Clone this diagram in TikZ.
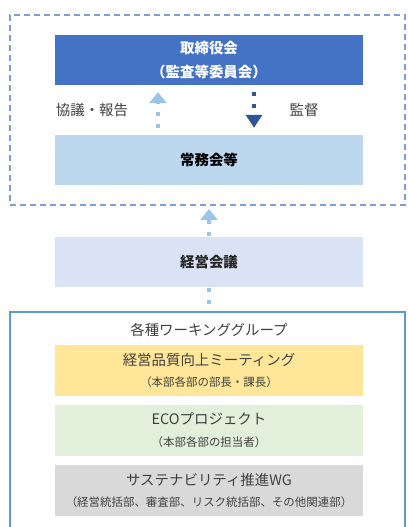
\documentclass[tikz,border=0pt]{standalone}
\usepackage{fontspec}
\setmainfont{Noto Sans CJK JP}
\usetikzlibrary{arrows.meta}

\begin{document}
\begin{tikzpicture}[x=1bp, y=-1bp,
  box/.style={minimum width=308bp, minimum height=50bp, inner sep=0pt, align=center},
  bigtext/.style={font=\fontsize{14.5}{24}\selectfont},
  wgbox/.style={box, minimum height=51bp, text=black!75, font=\fontsize{14.5}{22}\selectfont},
  upflow/.style={draw=uparrow, line width=4bp, dash pattern=on 4bp off 8bp,
    -{Triangle[width=17bp, length=11bp]}},
  downflow/.style={draw=downarrow, line width=4bp, dash pattern=on 4bp off 8bp,
    -{Triangle[width=16bp, length=13bp]}}]

% Define colors
\definecolor{boardblue}{HTML}{4472C4}
\definecolor{jomublue}{HTML}{BDD7EE}
\definecolor{keieiblue}{HTML}{DAE3F3}
\definecolor{framedash}{HTML}{7E9ED8}
\definecolor{framewg}{HTML}{5B9BD5}
\definecolor{uparrow}{HTML}{9DC3E6}
\definecolor{downarrow}{HTML}{2F5597}
\definecolor{wgyellow}{HTML}{FFE699}
\definecolor{wggreen}{HTML}{E2EFDA}
\definecolor{wggrey}{HTML}{D9D9D9}

\useasboundingbox[fill=white] (0,0) rectangle (407,527);

% Upper dashed frame
\node (outer) [draw=framedash, line width=2bp, dash pattern=on 6bp off 4bp,
  minimum width=395bp, minimum height=190bp, inner sep=0pt] at (207.5,110) {};

% Boards
\node (board) [box, fill=boardblue, text=white, bigtext] at (209,60)
  {\textbf{取締役会}\\\textbf{（監査等委員会）}};
\node (jomu) [box, fill=jomublue, bigtext] at (209,160) {\textbf{常務会等}};
\node (keiei) [box, fill=keieiblue, text=black!85, bigtext] at (209,262) {\textbf{経営会議}};

% Labels beside the arrows
\node (kyogi) [text=black!75, font=\fontsize{14.5}{16}\selectfont] at (92,110) {協議・報告};
\node (kantoku) [text=black!75, font=\fontsize{14.5}{16}\selectfont] at (304,110) {監督};

% Arrows
\draw[upflow, shorten <=7bp, shorten >=7bp]
  ([xshift=-51bp]jomu.north) -- ([xshift=-51bp]board.south);
\draw[downflow, shorten <=7bp, shorten >=7bp]
  ([xshift=45bp]board.south) -- ([xshift=45bp]jomu.north);
\draw[upflow, shorten <=1bp, shorten >=3bp] (keiei.north) -- (keiei.north |- outer.south);

% Working group frame (open at the bottom)
\coordinate (wgtop) at (209,312);
\draw[framewg, line width=2bp] (10,528) -- (10,312) -- (405,312) -- (405,528);
\draw[uparrow, line width=4bp, dash pattern=on 4bp off 8bp, shorten <=1bp]
  (keiei.south) -- (wgtop);

\node (wgtitle) [text=black!75, font=\fontsize{14.5}{16}\selectfont] at (209,330) {各種ワーキンググループ};

% Working groups
\node (quality) [wgbox, fill=wgyellow] at (209,370.5)
  {経営品質向上ミーティング\\{\fontsize{11.5}{13}\selectfont （本部各部の部長・課長）}};
\node (eco) [wgbox, fill=wggreen] at (209,430.5)
  {ECOプロジェクト\\{\fontsize{11.5}{13}\selectfont （本部各部の担当者）}};
\node (sustain) [wgbox, fill=wggrey] at (209,490.5)
  {サステナビリティ推進WG\\{\fontsize{11.5}{13}\selectfont （経営統括部、審査部、リスク統括部、その他関連部）}};

\end{tikzpicture}
\end{document}
